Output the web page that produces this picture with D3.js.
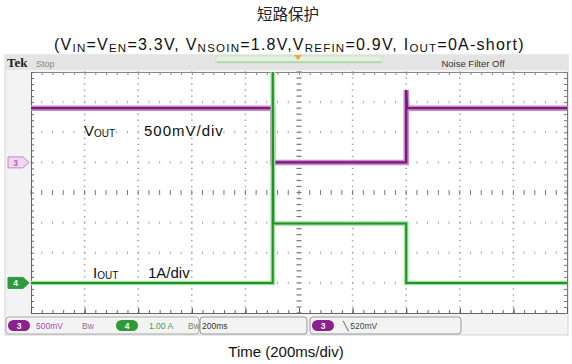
<!DOCTYPE html>
<html>
<head>
<meta charset="utf-8">
<script src="https://cdn.jsdelivr.net/npm/d3@7/dist/d3.min.js"></script>
<style>
  html, body { margin: 0; padding: 0; background: #ffffff; }
  svg { display: block; }
</style>
</head>
<body>
<div id="chart"></div>
<script>
// ---- Data -----------------------------------------------------------
// Time axis: 10 divisions at 200 ms/div
const timeDomainMs = [0, 2000];
const divTicks = [0, 1, 2, 3, 4, 5, 6, 7, 8, 9, 10];
const rowTicks = [-4, -3, -2, -1, 0, 1, 2, 3, 4];

// CH3 (VOUT), 500 mV/div, ground marker at +1 div
const voutScale = 0.5;      // V per div
const voutOffsetDiv = 1;
const voutTimeMs = [0, 902, 902, 1400, 1400, 1403, 2000];
const voutVolts  = [0.9, 0.9, 0.0, 0.0, 1.2, 0.9, 0.9];

// CH4 (IOUT), 1 A/div, ground marker at -3 div
const ioutScale = 1.0;      // A per div
const ioutOffsetDiv = -3;
const ioutTimeMs = [0, 902, 902, 904, 1400, 1400, 2000];
const ioutAmps   = [0.0, 0.0, 7.5, 1.97, 1.97, 0.0, 0.0];

// Text
const titleText = "短路保护";
const xLabel = "Time (200ms/div)";

// ---- Layout ---------------------------------------------------------
const W = 572, H = 364;
const gx0 = 31, gx1 = 567, gy0 = 72, gy1 = 313;
const purple = "#7a1c7a", purpleLight = "#c98ac9";
const green = "#23902a", greenLight = "#9ee09e";

const svg = d3.select("#chart").append("svg")
  .attr("width", W).attr("height", H)
  .style("font-family", "'Liberation Sans', Arial, sans-serif");

const defs = svg.append("defs");
defs.append("filter").attr("id", "soft").attr("x", "-5%").attr("y", "-50%")
  .attr("width", "110%").attr("height", "200%")
  .append("feGaussianBlur").attr("stdDeviation", 0.7);

const x = d3.scaleLinear().domain(timeDomainMs).range([gx0, gx1]);
const xDiv = d3.scaleLinear().domain([0, 10]).range([gx0, gx1]);
const yDiv = d3.scaleLinear().domain([-4, 4]).range([gy1, gy0]);

// ---- Title ----------------------------------------------------------
svg.append("text").attr("x", 288).attr("y", 20).attr("text-anchor", "middle")
  .style("font-family", "'Noto Sans CJK SC', sans-serif")
  .style("font-size", "15.5px").attr("fill", "#222").text(titleText);

const sub = svg.append("text").attr("x", 54).attr("y", 50)
  .style("font-size", "16px").attr("fill", "#111");
const subParts = [
  ["(V", 0], ["IN", 1], ["=V", 0], ["EN", 1], ["=3.3V, V", 0], ["NSOIN", 1],
  ["=1.8V,V", 0], ["REFIN", 1], ["=0.9V,  I", 0], ["OUT", 1], ["=0A-short)", 0]
];
subParts.forEach(([t, s], i) => {
  const ts = sub.append("tspan").text(t).style("font-size", s ? "11.5px" : "16px");
  if (s) ts.attr("dy", 1.5);
  else if (i > 0) ts.attr("dy", -1.5);
});
// stretch the subtitle to its full line width
const subLen = sub.node().getComputedTextLength();
const nChars = subParts.map(p => p[0]).join("").length;
sub.style("letter-spacing", ((472 - subLen) / nChars) + "px");

// ---- Scope frame ----------------------------------------------------
svg.append("rect").attr("x", 5).attr("y", 55).attr("width", 563).attr("height", 280)
  .attr("fill", "#f3f3f3").attr("stroke", "#d4d4d4");
svg.append("rect").attr("x", 5).attr("y", 55).attr("width", 563).attr("height", 15)
  .attr("fill", "#e4e4e4");
svg.append("rect").attr("x", gx0).attr("y", gy0).attr("width", gx1 - gx0).attr("height", gy1 - gy0)
  .attr("fill", "#ffffff");

// header
svg.append("text").attr("x", 7).attr("y", 67)
  .style("font-family", "'Liberation Serif', 'DejaVu Serif', serif")
  .style("font-weight", "bold").style("font-size", "13px").attr("fill", "#222").text("Tek");
svg.append("text").attr("x", 36).attr("y", 67).style("font-size", "9px")
  .attr("fill", "#888").text("Stop");
svg.append("rect").attr("x", 216).attr("y", 56).attr("width", 166).attr("height", 7)
  .attr("fill", "#e2f2dc").attr("stroke", "#c6dcc0").attr("stroke-width", 0.8);
svg.append("line").attr("x1", 217).attr("x2", 381).attr("y1", 62).attr("y2", 62)
  .attr("stroke", "#8fc48f").attr("stroke-width", 1.2);
svg.append("path").attr("d", "M294,55 L302,55 L298,60 Z").attr("fill", "#f0a830");
svg.append("text").attr("x", 473).attr("y", 66.5).attr("text-anchor", "middle")
  .style("font-size", "9.5px").attr("fill", "#333").text("Noise Filter Off");

// ---- Graticule -------------------------------------------------------
const grid = svg.append("g");
divTicks.slice(1, -1).forEach(d => {
  const gx = xDiv(d);
  const center = d === 5;
  d3.range(-4, 4.01, 0.2).forEach(r => {
    grid.append("line").attr("x1", gx - (center ? 2.5 : 0.8)).attr("x2", gx + (center ? 2.5 : 0.8))
      .attr("y1", yDiv(r)).attr("y2", yDiv(r))
      .attr("stroke", center ? "#777" : "#9a9a9a").attr("stroke-width", 1.2);
  });
});
rowTicks.slice(1, -1).forEach(r => {
  const gy = yDiv(r);
  const center = r === 0;
  d3.range(0, 10.01, 0.2).forEach(d => {
    grid.append("line").attr("x1", xDiv(d)).attr("x2", xDiv(d))
      .attr("y1", gy - (center ? 2.5 : 1.2)).attr("y2", gy + (center ? 2.5 : 1.2))
      .attr("stroke", center ? "#777" : "#aaa").attr("stroke-width", 1);
  });
});

// edge rulers via d3 axes
const minorX = d3.range(0, 10.01, 0.2);
const minorY = d3.range(-4, 4.01, 0.2);
svg.append("g").attr("transform", `translate(0,${gy1})`)
  .call(d3.axisBottom(xDiv).tickValues(minorX).tickSize(-3).tickFormat(""))
  .call(g => g.selectAll("line,path").attr("stroke", "#666"));
svg.append("g").attr("transform", `translate(0,${gy0})`)
  .call(d3.axisTop(xDiv).tickValues(minorX).tickSize(-3).tickFormat(""))
  .call(g => g.selectAll("line,path").attr("stroke", "#888"));
svg.append("g").attr("transform", `translate(${gx0},0)`)
  .call(d3.axisLeft(yDiv).tickValues(minorY).tickSize(-3).tickFormat(""))
  .call(g => g.selectAll("line,path").attr("stroke", "#666"));
svg.append("g").attr("transform", `translate(${gx1},0)`)
  .call(d3.axisRight(yDiv).tickValues(minorY).tickSize(-3).tickFormat(""))
  .call(g => g.selectAll("line,path").attr("stroke", "#777"));
svg.append("g").attr("transform", `translate(0,${gy1})`)
  .call(d3.axisBottom(xDiv).tickValues(divTicks).tickSize(-5).tickFormat(""))
  .call(g => g.selectAll("line").attr("stroke", "#555"))
  .call(g => g.select(".domain").remove());

// ---- Traces ----------------------------------------------------------
defs.append("clipPath").attr("id", "scr").append("rect")
  .attr("x", gx0).attr("y", gy0).attr("width", gx1 - gx0).attr("height", gy1 - gy0);

const voutPts = voutTimeMs.map((t, i) => [t, voutOffsetDiv + voutVolts[i] / voutScale]);
const ioutPts = ioutTimeMs.map((t, i) => [t, ioutOffsetDiv + ioutAmps[i] / ioutScale]);
const line = d3.line().x(d => x(d[0])).y(d => yDiv(d[1]));

const traces = svg.append("g").attr("clip-path", "url(#scr)");
traces.append("path").attr("d", line(voutPts)).attr("fill", "none")
  .attr("stroke", purpleLight).attr("stroke-width", 5.5).attr("filter", "url(#soft)");
traces.append("path").attr("d", line(voutPts)).attr("fill", "none")
  .attr("stroke", purple).attr("stroke-width", 2.4);
traces.append("path").attr("d", line(ioutPts)).attr("fill", "none")
  .attr("stroke", greenLight).attr("stroke-width", 4.5).attr("filter", "url(#soft)");
traces.append("path").attr("d", line(ioutPts)).attr("fill", "none")
  .attr("stroke", green).attr("stroke-width", 2);

// ---- Channel ground markers -------------------------------------------
function marker(yv, label, fill, stroke, txt) {
  const g = svg.append("g").attr("transform", `translate(8,${yDiv(yv)})`);
  g.append("path").attr("d", "M0,-5.5 L15,-5.5 L21,0 L15,5.5 L0,5.5 Z")
    .attr("fill", fill).attr("stroke", stroke).attr("stroke-width", 1);
  g.append("text").attr("x", 7.5).attr("y", 3.5).attr("text-anchor", "middle")
    .style("font-size", "8.5px").style("font-weight", "bold").attr("fill", txt).text(label);
}
marker(voutOffsetDiv, "3", "#f1d6f1", "#c48ac4", "#b06ab0");
marker(ioutOffsetDiv, "4", "#2f9a3a", "#2f9a3a", "#ffffff");

// ---- In-screen annotations ----------------------------------------------
const ann = svg.append("g").style("font-size", "15px").attr("fill", "#111");
const v = ann.append("text").attr("x", 84).attr("y", 136);
v.append("tspan").text("V");
v.append("tspan").text("OUT").style("font-size", "10px").attr("dy", 1);
ann.append("text").attr("x", 144).attr("y", 136).style("letter-spacing", "1px").text("500mV/div");
const io = ann.append("text").attr("x", 93).attr("y", 278);
io.append("tspan").text("I");
io.append("tspan").text("OUT").style("font-size", "10px").attr("dy", 1);
ann.append("text").attr("x", 148).attr("y", 278).text("1A/div");

// ---- Status bar ----------------------------------------------------------
const sb = svg.append("g").style("font-size", "8.5px");
sb.append("rect").attr("x", 6).attr("y", 317).attr("width", 193).attr("height", 17).attr("rx", 3)
  .attr("fill", "#f3f3f3").attr("stroke", "#aaa");
sb.append("rect").attr("x", 200).attr("y", 317).attr("width", 107).attr("height", 17).attr("rx", 3)
  .attr("fill", "#f3f3f3").attr("stroke", "#999");
sb.append("rect").attr("x", 310).attr("y", 317).attr("width", 151).attr("height", 17).attr("rx", 3)
  .attr("fill", "#f3f3f3").attr("stroke", "#999");

function badge(bx, label, fill) {
  sb.append("rect").attr("x", bx).attr("y", 320).attr("width", 22).attr("height", 11).attr("rx", 5.5)
    .attr("fill", fill);
  sb.append("text").attr("x", bx + 11).attr("y", 328.5).attr("text-anchor", "middle")
    .style("font-weight", "bold").attr("fill", "#fff").text(label);
}
badge(8, "3", "#8e1f8e");
sb.append("text").attr("x", 36).attr("y", 329).attr("fill", "#b04ab0").text("500mV");
sb.append("text").attr("x", 82).attr("y", 329).attr("fill", "#9a6a9a").text("Bw");
badge(116, "4", "#2f9a3a");
sb.append("text").attr("x", 149).attr("y", 329).attr("fill", "#40a040").text("1.00 A");
sb.append("text").attr("x", 188).attr("y", 329).attr("fill", "#6a8a6a").text("Bw");
sb.append("text").attr("x", 202).attr("y", 329).attr("fill", "#333").text("200ms");
badge(312, "3", "#8e1f8e");
sb.append("text").attr("x", 343).attr("y", 329).attr("fill", "#444").text("\u2572 520mV");

// ---- X label --------------------------------------------------------------
svg.append("text").attr("x", 286).attr("y", 357).attr("text-anchor", "middle")
  .style("font-size", "15px").attr("fill", "#111").text(xLabel);
</script>
</body>
</html>
